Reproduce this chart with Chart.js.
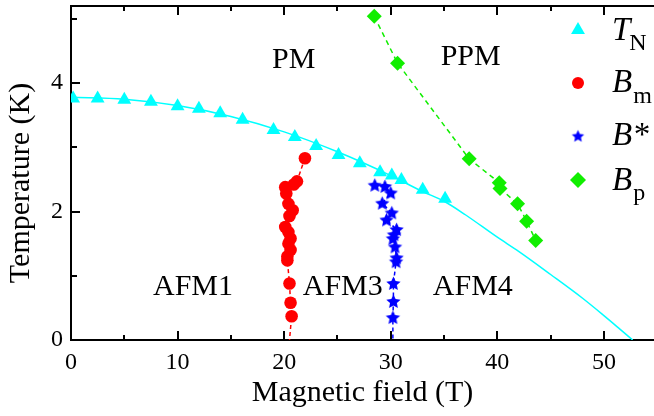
<!DOCTYPE html>
<html>
<head>
<meta charset="utf-8">
<script src="https://cdn.jsdelivr.net/npm/chart.js@4/dist/chart.umd.min.js"></script>
<style>
  html, body { margin: 0; padding: 0; background: #fff; }
</style>
</head>
<body>
<canvas id="phaseChart" width="654" height="416"></canvas>
<script>
// T_N (triangles)
const tnField = [0.2, 2.5, 5.0, 7.5, 10.0, 12.0, 14.0, 16.1, 19.0, 21.0, 23.0, 25.1, 27.1, 29.0, 30.1, 31.0, 33.0, 35.1];
const tnTemp  = [3.76, 3.76, 3.74, 3.71, 3.64, 3.60, 3.53, 3.43, 3.27, 3.16, 3.02, 2.88, 2.75, 2.61, 2.56, 2.49, 2.34, 2.20];

// fit curve through T_N
const fitField = [0, 5, 10, 15, 20, 25, 30, 33, 35, 37, 40, 42, 45, 48, 50, 51.5, 52.7];
const fitTemp  = [3.78, 3.75, 3.65, 3.48, 3.24, 2.93, 2.56, 2.31, 2.16, 1.95, 1.60, 1.38, 1.02, 0.65, 0.38, 0.17, 0];

// B_m (circles)
const bmField = [21.95, 21.2, 20.9, 20.1, 20.2, 20.4, 20.8, 20.5, 20.1, 20.4, 20.6, 20.4, 20.6, 20.3, 20.3, 20.5, 20.6, 20.7];
const bmTemp  = [2.83, 2.47, 2.42, 2.38, 2.28, 2.12, 2.02, 1.93, 1.76, 1.68, 1.58, 1.50, 1.40, 1.30, 1.24, 0.88, 0.58, 0.37];
const bmLineEnd = [20.5, 0];

// B* (stars)
const bsField = [28.5, 29.45, 30.0, 29.2, 30.1, 29.6, 30.55, 30.3, 30.2, 30.4, 30.55, 30.5, 30.25, 30.25, 30.2];
const bsTemp  = [2.41, 2.39, 2.29, 2.13, 1.98, 1.87, 1.72, 1.64, 1.58, 1.45, 1.28, 1.22, 0.88, 0.60, 0.35];
const bsLineEnd = [30.2, 0];

// B_p (diamonds)
const bpField = [28.45, 30.64, 37.36, 40.18, 40.25, 41.9, 42.75, 43.6];
const bpTemp  = [5.04, 4.31, 2.82, 2.45, 2.36, 2.12, 1.85, 1.55];

// axes
const xTicks = [0, 10, 20, 30, 40, 50];
const xMinor = [5, 15, 25, 35, 45];
const yTicks = [0, 2, 4];
const yMinor = [1, 3, 5];

// phase labels
const regionNames = ['PM', 'PPM', 'AFM1', 'AFM3', 'AFM4'];
const regionField = [20.9, 37.5, 11.45, 25.5, 37.7];
const regionTemp  = [4.24, 4.28, 0.70, 0.70, 0.70];

const serif = '"Liberation Serif", "Times New Roman", serif';
const CYAN = '#00ffff', RED = '#ff0000', BLUE = '#0000ff', GREEN = '#11ee00';

function pts(xs, ys) {
    return xs.map((x, i) => ({x: x, y: ys[i]}));
}

// filled five point star used as point style
function starCanvas(r, color) {
    const c = document.createElement('canvas');
    const s = Math.ceil(r * 2) + 2;
    c.width = c.height = s;
    const g = c.getContext('2d');
    g.fillStyle = color;
    g.beginPath();
    for (let i = 0; i < 10; i++) {
        const rad = i % 2 === 0 ? r : r * 0.48;
        const a = -Math.PI / 2 + i * Math.PI / 5;
        const px = s / 2 + rad * Math.cos(a), py = s / 2 + 0.5 + rad * Math.sin(a);
        if (i === 0) g.moveTo(px, py); else g.lineTo(px, py);
    }
    g.closePath();
    g.fill();
    return c;
}
const plotStar = starCanvas(7.5, BLUE);
const legendStar = starCanvas(6.5, BLUE);

const decor = {
    id: 'decor',
    afterDraw(chart) {
        const ctx = chart.ctx;
        const a = chart.chartArea;
        const xs = chart.scales.x, ys = chart.scales.y;
        ctx.save();
        ctx.strokeStyle = '#000';
        ctx.lineWidth = 2;
        // top frame line
        ctx.beginPath();
        ctx.moveTo(a.left - 1, a.top);
        ctx.lineTo(a.right, a.top);
        ctx.stroke();
        // inward ticks
        const tick = (vals, len) => {
            vals.forEach(v => {
                const px = Math.round(xs.getPixelForValue(v));
                ctx.beginPath();
                ctx.moveTo(px, a.bottom); ctx.lineTo(px, a.bottom - len);
                ctx.moveTo(px, a.top); ctx.lineTo(px, a.top + len);
                ctx.stroke();
            });
        };
        tick(xTicks, 9);
        tick(xMinor, 5);
        const ytick = (vals, len) => {
            vals.forEach(v => {
                const py = Math.round(ys.getPixelForValue(v));
                ctx.beginPath();
                ctx.moveTo(a.left, py); ctx.lineTo(a.left + len, py);
                ctx.stroke();
            });
        };
        ytick(yTicks, 9);
        ytick(yMinor, 6);

        // phase labels
        ctx.fillStyle = '#000';
        ctx.font = '30px ' + serif;
        ctx.textAlign = 'center';
        ctx.textBaseline = 'alphabetic';
        regionNames.forEach((n, i) => {
            ctx.fillText(n, xs.getPixelForValue(regionField[i]), ys.getPixelForValue(regionTemp[i]));
        });

        // y axis title
        ctx.save();
        ctx.translate(21, (a.top + a.bottom) / 2 + 10);
        ctx.rotate(-Math.PI / 2);
        ctx.textBaseline = 'middle';
        ctx.fillText('Temperature (K)', 0, 0);
        ctx.restore();

        // legend
        const mx = 578, tx = 612;
        ctx.fillStyle = CYAN;
        ctx.beginPath();
        const r = 8;
        for (let k = 0; k < 3; k++) {
            const ang = k * 2 * Math.PI / 3;
            const px = mx + Math.sin(ang) * r, py = 30 - Math.cos(ang) * r;
            if (k === 0) ctx.moveTo(px, py); else ctx.lineTo(px, py);
        }
        ctx.closePath(); ctx.fill();
        ctx.fillStyle = RED;
        ctx.beginPath(); ctx.arc(mx, 83, 6, 0, Math.PI * 2); ctx.fill();
        ctx.drawImage(legendStar, mx - legendStar.width / 2, 136 - legendStar.height / 2);
        ctx.fillStyle = GREEN;
        ctx.beginPath();
        ctx.moveTo(mx, 172); ctx.lineTo(mx + 8, 180); ctx.lineTo(mx, 188); ctx.lineTo(mx - 8, 180);
        ctx.closePath(); ctx.fill();

        const entries = [['T', 'N', 40, 50, -2], ['B', 'm', 92, 103, 0], ['B*', '', 145, 0, 0], ['B', 'p', 190, 200, 0]];
        ctx.fillStyle = '#000';
        ctx.textAlign = 'left';
        entries.forEach(e => {
            ctx.font = 'italic 33px ' + serif;
            ctx.fillText(e[0], tx, e[2]);
            if (e[1]) {
                const w = ctx.measureText(e[0]).width;
                ctx.font = '24px ' + serif;
                ctx.fillText(e[1], tx + w + 1 + e[4], e[3]);
            }
        });
        ctx.restore();
    }
};

new Chart(document.getElementById('phaseChart'), {
    type: 'scatter',
    data: {
        datasets: [
            {
                label: 'TN',
                data: pts(tnField, tnTemp),
                pointStyle: 'triangle',
                pointRadius: 8,
                pointBackgroundColor: CYAN,
                pointBorderWidth: 0,
                showLine: false,
                order: 1
            },
            {
                label: 'Bm',
                data: pts(bmField, bmTemp),
                pointStyle: 'circle',
                pointRadius: 6.3,
                pointBackgroundColor: RED,
                pointBorderWidth: 0,
                showLine: false,
                order: 1
            },
            {
                label: 'B*',
                data: pts(bsField, bsTemp),
                pointStyle: plotStar,
                pointRadius: 7.5,
                showLine: false,
                order: 1
            },
            {
                label: 'Bp',
                data: pts(bpField, bpTemp),
                pointStyle: 'rectRot',
                pointRadius: 7.5,
                pointBackgroundColor: GREEN,
                pointBorderWidth: 0,
                showLine: false,
                order: 1
            },
            {
                label: 'fit',
                data: pts(fitField, fitTemp),
                showLine: true,
                borderColor: CYAN,
                borderWidth: 1.5,
                pointRadius: 0,
                cubicInterpolationMode: 'monotone',
                order: 2
            },
            {
                label: 'Bm line',
                data: pts(bmField, bmTemp).concat([{x: bmLineEnd[0], y: bmLineEnd[1]}]),
                showLine: true,
                borderColor: RED,
                borderWidth: 1.5,
                borderDash: [4, 3],
                pointRadius: 0,
                order: 2
            },
            {
                label: 'B* line',
                data: pts(bsField, bsTemp).concat([{x: bsLineEnd[0], y: bsLineEnd[1]}]),
                showLine: true,
                borderColor: BLUE,
                borderWidth: 1.5,
                borderDash: [4, 3],
                pointRadius: 0,
                order: 2
            },
            {
                label: 'Bp line',
                data: pts(bpField, bpTemp),
                showLine: true,
                borderColor: GREEN,
                borderWidth: 1.5,
                borderDash: [5, 4],
                pointRadius: 0,
                order: 2
            }
        ]
    },
    options: {
        responsive: false,
        animation: false,
        devicePixelRatio: 1,
        layout: {autoPadding: false, padding: {top: 6, right: 0, bottom: 0, left: 0}},
        plugins: {
            legend: {display: false},
            tooltip: {enabled: false}
        },
        scales: {
            x: {
                type: 'linear',
                position: 'bottom',
                min: 0,
                max: 54.7,
                afterBuildTicks: s => { s.ticks = xTicks.map(v => ({value: v})); },
                afterFit: s => { s.height = 76; s.paddingLeft = 0; s.paddingRight = 0; },
                ticks: {color: '#000', font: {family: serif, size: 24}, padding: 8, maxRotation: 0, autoSkip: false},
                grid: {display: false, drawTicks: false},
                border: {display: true, color: '#000', width: 2},
                title: {display: true, text: 'Magnetic field (T)', color: '#000', font: {family: serif, size: 30}, padding: {top: 0, bottom: 5}}
            },
            y: {
                type: 'linear',
                min: 0,
                max: 5.2,
                afterBuildTicks: s => { s.ticks = yTicks.map(v => ({value: v})); },
                afterFit: s => { s.width = 71; s.paddingTop = 0; s.paddingBottom = 0; },
                ticks: {color: '#000', font: {family: serif, size: 24}, padding: 8, autoSkip: false},
                grid: {display: false, drawTicks: false},
                border: {display: true, color: '#000', width: 2},
                title: {display: false}
            }
        }
    },
    plugins: [decor]
});
</script>
</body>
</html>
